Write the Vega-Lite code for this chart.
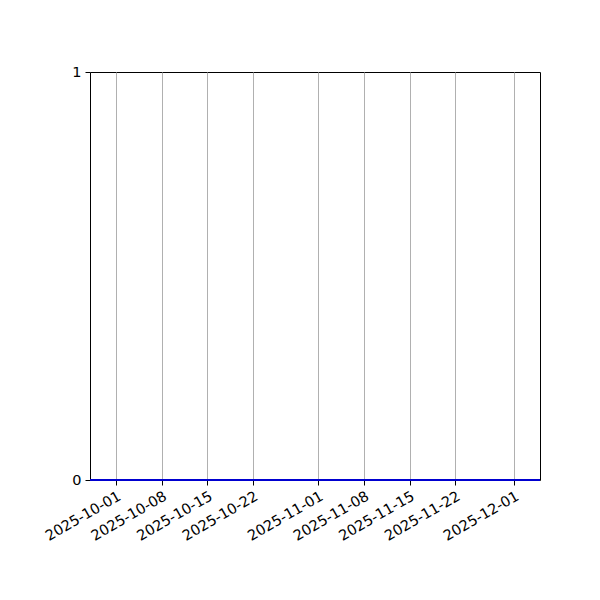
{
  "$schema": "https://vega.github.io/schema/vega-lite/v6.json",
  "width": 450,
  "height": 408,
  "autosize": "none",
  "padding": {"left": 90, "top": 72, "right": 60, "bottom": 120},
  "background": "white",
  "config": {
    "font": "DejaVu Sans",
    "view": {"stroke": "black", "strokeWidth": 1},
    "axis": {
      "labelFont": "DejaVu Sans",
      "labelFontSize": 14.5,
      "labelColor": "black",
      "tickColor": "black",
      "tickSize": 5,
      "domain": false,
      "title": null
    }
  },
  "data": {
    "values": [
      {"date": "2025-09-27", "value": 0},
      {"date": "2025-10-01", "value": 0},
      {"date": "2025-10-15", "value": 0},
      {"date": "2025-11-01", "value": 0},
      {"date": "2025-11-15", "value": 0},
      {"date": "2025-12-01", "value": 0},
      {"date": "2025-12-05", "value": 0}
    ]
  },
  "mark": {"type": "line", "color": "#0000d0", "strokeWidth": 2},
  "encoding": {
    "x": {
      "field": "date",
      "type": "temporal",
      "scale": {
        "type": "utc",
        "domain": [
          {"year": 2025, "month": 9, "date": 27, "utc": true},
          {"year": 2025, "month": 12, "date": 5, "utc": true}
        ]
      },
      "axis": {
        "values": [
          {"year": 2025, "month": 10, "date": 1, "utc": true},
          {"year": 2025, "month": 10, "date": 8, "utc": true},
          {"year": 2025, "month": 10, "date": 15, "utc": true},
          {"year": 2025, "month": 10, "date": 22, "utc": true},
          {"year": 2025, "month": 11, "date": 1, "utc": true},
          {"year": 2025, "month": 11, "date": 8, "utc": true},
          {"year": 2025, "month": 11, "date": 15, "utc": true},
          {"year": 2025, "month": 11, "date": 22, "utc": true},
          {"year": 2025, "month": 12, "date": 1, "utc": true}
        ],
        "format": "%Y-%m-%d",
        "labelAngle": -30,
        "labelAlign": "right",
        "labelBaseline": "top",
        "labelPadding": 4,
        "labelOverlap": false,
        "grid": true,
        "gridColor": "#b0b0b0",
        "gridWidth": 1
      }
    },
    "y": {
      "field": "value",
      "type": "quantitative",
      "scale": {"domain": [0, 1], "nice": false},
      "axis": {"values": [0, 1], "format": "d", "grid": false, "labelPadding": 4}
    }
  }
}
